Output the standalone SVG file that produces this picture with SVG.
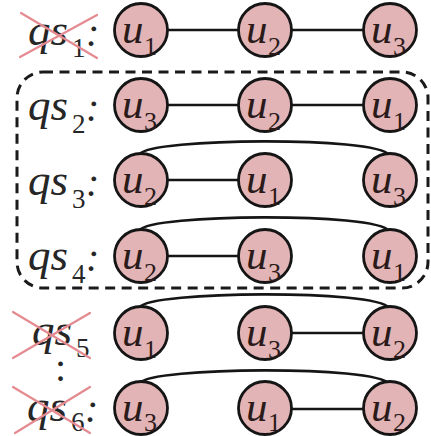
<svg xmlns="http://www.w3.org/2000/svg" width="431" height="436" viewBox="0 0 431 436">
  <style>
    .node { fill: #e2b4b6; stroke: #151515; stroke-width: 2.8; }
    .var { font-family: "Liberation Serif", "Times New Roman", serif; font-style: italic; font-size: 43px; fill: #2a1a1a; }
    .sub { font-family: "Liberation Serif", "Times New Roman", serif; font-style: normal; font-size: 26px; fill: #2a1a1a; }
    .lab { font-family: "Liberation Serif", "Times New Roman", serif; font-style: italic; font-size: 45px; fill: #262626; }
    .labsub { font-family: "Liberation Serif", "Times New Roman", serif; font-style: normal; font-size: 27px; fill: #262626; }
    .colon { font-family: "Liberation Serif", "Times New Roman", serif; font-size: 40px; fill: #262626; }
    .edge { fill: none; stroke: #151515; stroke-width: 2.6; }
    .cross { stroke: #e48a90; stroke-width: 2.2; stroke-linecap: round; }
    .group { fill: none; stroke: #1a1a1a; stroke-width: 3; stroke-dasharray: 10 6.5; }
  </style>

  <!-- dashed box around the kept sequences -->
  <rect class="group" x="17" y="72" width="411" height="216" rx="26" ry="26"/>

  <!-- row labels -->
  <g id="labels">
    <text class="lab" x="28" y="45">qs<tspan class="labsub" x="72" y="57">1</tspan><tspan class="colon" x="86" y="46">:</tspan></text>
    <text class="lab" x="28" y="120">qs<tspan class="labsub" x="72" y="133">2</tspan><tspan class="colon" x="86" y="121">:</tspan></text>
    <text class="lab" x="28" y="195">qs<tspan class="labsub" x="72" y="208">3</tspan><tspan class="colon" x="86" y="196">:</tspan></text>
    <text class="lab" x="28" y="270">qs<tspan class="labsub" x="72" y="283">4</tspan><tspan class="colon" x="86" y="271">:</tspan></text>
    <text class="lab" x="32" y="345">qs<tspan class="labsub" x="76" y="357">5</tspan></text>
    <text class="colon" x="55" y="381">:</text>
    <text class="lab" x="27" y="421">qs<tspan class="labsub" x="71" y="431">6</tspan><tspan class="colon" x="85" y="422">:</tspan></text>
  </g>

  <!-- strike-outs on discarded sequences -->
  <g id="strikes">
    <line class="cross" x1="21" y1="13" x2="97" y2="58"/>
    <line class="cross" x1="20" y1="57" x2="97" y2="15"/>
    <line class="cross" x1="13" y1="312" x2="90" y2="358"/>
    <line class="cross" x1="13" y1="358" x2="90" y2="313"/>
    <line class="cross" x1="13" y1="387" x2="90" y2="433"/>
    <line class="cross" x1="15" y1="433" x2="90" y2="387"/>
  </g>

  <!-- connectors -->
  <g id="edges">
    <!-- row 1 -->
    <line class="edge" x1="168" y1="30" x2="238" y2="30"/>
    <line class="edge" x1="292" y1="30" x2="363" y2="30"/>
    <!-- row 2 -->
    <line class="edge" x1="168" y1="105" x2="238" y2="105"/>
    <line class="edge" x1="292" y1="105" x2="363" y2="105"/>
    <!-- row 3 -->
    <line class="edge" x1="168" y1="180" x2="238" y2="180"/>
    <path class="edge" d="M140 154 C150 138 376 136 389 155"/>
    <!-- row 4 -->
    <line class="edge" x1="168" y1="256" x2="238" y2="256"/>
    <path class="edge" d="M140 230 C150 214 376 212 389 231"/>
    <!-- row 5 -->
    <line class="edge" x1="292" y1="333" x2="363" y2="333"/>
    <path class="edge" d="M140 307 C150 291 376 289 389 308"/>
    <!-- row 6 -->
    <line class="edge" x1="292" y1="409" x2="363" y2="409"/>
    <path class="edge" d="M140 383 C150 367 376 365 389 384"/>
  </g>

  <!-- row 1 -->
  <g id="r1-a"><circle class="node" cx="141" cy="30" r="26.5"/><text class="var" x="122" y="43">u<tspan class="sub" x="144" y="55">1</tspan></text></g>
  <g id="r1-b"><circle class="node" cx="265" cy="30" r="26.5"/><text class="var" x="246" y="43">u<tspan class="sub" x="268" y="55">2</tspan></text></g>
  <g id="r1-c"><circle class="node" cx="390" cy="30" r="26.5"/><text class="var" x="371" y="43">u<tspan class="sub" x="393" y="55">3</tspan></text></g>
  <!-- row 2 -->
  <g id="r2-a"><circle class="node" cx="141" cy="105" r="26.5"/><text class="var" x="122" y="118">u<tspan class="sub" x="144" y="130">3</tspan></text></g>
  <g id="r2-b"><circle class="node" cx="265" cy="105" r="26.5"/><text class="var" x="246" y="118">u<tspan class="sub" x="268" y="130">2</tspan></text></g>
  <g id="r2-c"><circle class="node" cx="390" cy="105" r="26.5"/><text class="var" x="371" y="118">u<tspan class="sub" x="393" y="130">1</tspan></text></g>
  <!-- row 3 -->
  <g id="r3-a"><circle class="node" cx="141" cy="180" r="26.5"/><text class="var" x="122" y="193">u<tspan class="sub" x="144" y="205">2</tspan></text></g>
  <g id="r3-b"><circle class="node" cx="265" cy="180" r="26.5"/><text class="var" x="246" y="193">u<tspan class="sub" x="268" y="205">1</tspan></text></g>
  <g id="r3-c"><circle class="node" cx="390" cy="180" r="26.5"/><text class="var" x="371" y="193">u<tspan class="sub" x="393" y="205">3</tspan></text></g>
  <!-- row 4 -->
  <g id="r4-a"><circle class="node" cx="141" cy="256" r="26.5"/><text class="var" x="122" y="269">u<tspan class="sub" x="144" y="281">2</tspan></text></g>
  <g id="r4-b"><circle class="node" cx="265" cy="256" r="26.5"/><text class="var" x="246" y="269">u<tspan class="sub" x="268" y="281">3</tspan></text></g>
  <g id="r4-c"><circle class="node" cx="390" cy="256" r="26.5"/><text class="var" x="371" y="269">u<tspan class="sub" x="393" y="281">1</tspan></text></g>
  <!-- row 5 -->
  <g id="r5-a"><circle class="node" cx="141" cy="333" r="26.5"/><text class="var" x="122" y="346">u<tspan class="sub" x="144" y="358">1</tspan></text></g>
  <g id="r5-b"><circle class="node" cx="265" cy="333" r="26.5"/><text class="var" x="246" y="346">u<tspan class="sub" x="268" y="358">3</tspan></text></g>
  <g id="r5-c"><circle class="node" cx="390" cy="333" r="26.5"/><text class="var" x="371" y="346">u<tspan class="sub" x="393" y="358">2</tspan></text></g>
  <!-- row 6 -->
  <g id="r6-a"><circle class="node" cx="141" cy="408" r="26.5"/><text class="var" x="122" y="421">u<tspan class="sub" x="144" y="431">3</tspan></text></g>
  <g id="r6-b"><circle class="node" cx="265" cy="408" r="26.5"/><text class="var" x="246" y="421">u<tspan class="sub" x="268" y="431">1</tspan></text></g>
  <g id="r6-c"><circle class="node" cx="390" cy="408" r="26.5"/><text class="var" x="371" y="421">u<tspan class="sub" x="393" y="431">2</tspan></text></g>
</svg>
